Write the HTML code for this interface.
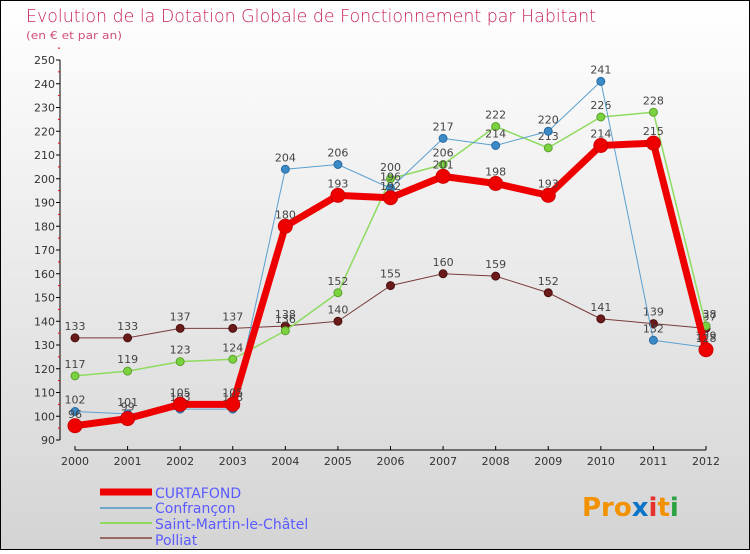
<!DOCTYPE html>
<html><head><meta charset="utf-8"><style>
body{margin:0;width:750px;height:550px;overflow:hidden;font-family:"DejaVu Sans","Liberation Sans",sans-serif}
</style></head><body>
<svg width="750" height="550" xmlns="http://www.w3.org/2000/svg" id="svg">
<defs><linearGradient id="bg" x1="0" y1="0" x2="0" y2="1"><stop offset="0" stop-color="#ffffff"/><stop offset="1" stop-color="#d4d4d4"/></linearGradient></defs>
<rect x="0.5" y="0.5" width="749" height="549" fill="url(#bg)" stroke="#000"/>
<text x="26" y="22" font-size="18" fill="#c8245a" font-family="DejaVu Sans" font-weight="200" textLength="570" lengthAdjust="spacingAndGlyphs">Evolution de la Dotation Globale de Fonctionnement par Habitant</text>
<text x="26" y="39" font-size="11" fill="#d0507a" textLength="96" lengthAdjust="spacingAndGlyphs">(en € et par an)</text>
<g id="axes"></g><g id="series"></g>
<g font-size="14" fill="#5a5aff">
<line x1="100" y1="492" x2="152" y2="492" stroke="#e00" stroke-width="7"/>
<text x="155" y="498">CURTAFOND</text>
<line x1="100" y1="508" x2="152" y2="508" stroke="#6fa6cc" stroke-width="2"/>
<text x="155" y="513">Confrançon</text>
<line x1="100" y1="523" x2="152" y2="523" stroke="#8edb5f" stroke-width="2"/>
<text x="155" y="529">Saint-Martin-le-Châtel</text>
<line x1="100" y1="538" x2="152" y2="538" stroke="#996666" stroke-width="2"/>
<text x="155" y="545">Polliat</text>
</g>
<text x="582" y="516" font-size="26" font-weight="bold"><tspan fill="#f39200">Pro</tspan><tspan fill="#0a74c9">x</tspan><tspan fill="#e5322d">i</tspan><tspan fill="#f39200">t</tspan><tspan fill="#2ca243">i</tspan></text>
</svg>
<script>
const years=["2000","2001","2002","2003","2004","2005","2006","2007","2008","2009","2010","2011","2012"];
const yTicks=[90,100,110,120,130,140,150,160,170,180,190,200,210,220,230,240,250];
const curtafond=[96,99,105,105,180,193,192,201,198,193,214,215,128];
const confrancon=[102,101,103,103,204,206,196,217,214,220,241,132,129];
const saintMartin=[117,119,123,124,136,152,200,206,222,213,226,228,138];
const polliat=[133,133,137,137,138,140,155,160,159,152,141,139,137];
const NS="http://www.w3.org/2000/svg";
const X=i=>75+i*(706-75)/12;
const Y=v=>440-(v-90)*380/160;
function mk(t,a,p){const e=document.createElementNS(NS,t);for(const k in a)e.setAttribute(k,a[k]);p.appendChild(e);return e;}
const ax=document.getElementById('axes');
const yl=mk('line',{x1:60,y1:60,x2:60,y2:440,stroke:'#000'},ax);


yTicks.forEach(v=>{
 mk('line',{x1:56,x2:60,y1:Y(v),y2:Y(v),stroke:'#000'},ax);
 mk('line',{x1:58,x2:60,y1:Y(v+5),y2:Y(v+5),stroke:'#e00'},ax);
 const t=mk('text',{x:55,y:Y(v)+4,'font-size':11,fill:'#333','text-anchor':'end'},ax);t.textContent=v;
 
 
});
const xl=mk('line',{x1:75,y1:450,x2:706,y2:450,stroke:'#000'},ax);


years.forEach((y,i)=>{
 mk('line',{x1:X(i),x2:X(i),y1:446,y2:450,stroke:'#000'},ax);
 const t=mk('text',{x:X(i),y:465,'font-size':11,fill:'#333','text-anchor':'middle'},ax);t.textContent=y;
 
 
});
const sg=document.getElementById('series');
function draw(name,data,color,w,r,dot,dotStroke){
 const g=mk('g',{},sg);
 
 
 mk('polyline',{points:data.map((v,i)=>X(i)+','+Y(v)).join(' '),fill:'none',stroke:color,'stroke-width':w,'stroke-linejoin':'round'},g);
 data.forEach((v,i)=>{
  const c=mk('circle',{cx:X(i),cy:Y(v),r:r,fill:dot,stroke:dotStroke,'stroke-width':1},g);
  
  
  const t=mk('text',{x:X(i),y:Y(v)-8,'font-size':11,fill:'#444','text-anchor':'middle'},g);t.textContent=v;
 });
}
draw('polliat-series',polliat,'#7a3b3b',1,4,'#6b1a1a','#4a0f0f');
draw('saint-martin-series',saintMartin,'#8edb5f',1.5,4,'#7ad23e','#5aa02e');
draw('confrancon-series',confrancon,'#5b9fd0',1,4,'#3a8ac8','#2a6aa0');
draw('curtafond-series',curtafond,'#ee0000',7,7,'#ee0000','#c00');
</script>
</body></html>
